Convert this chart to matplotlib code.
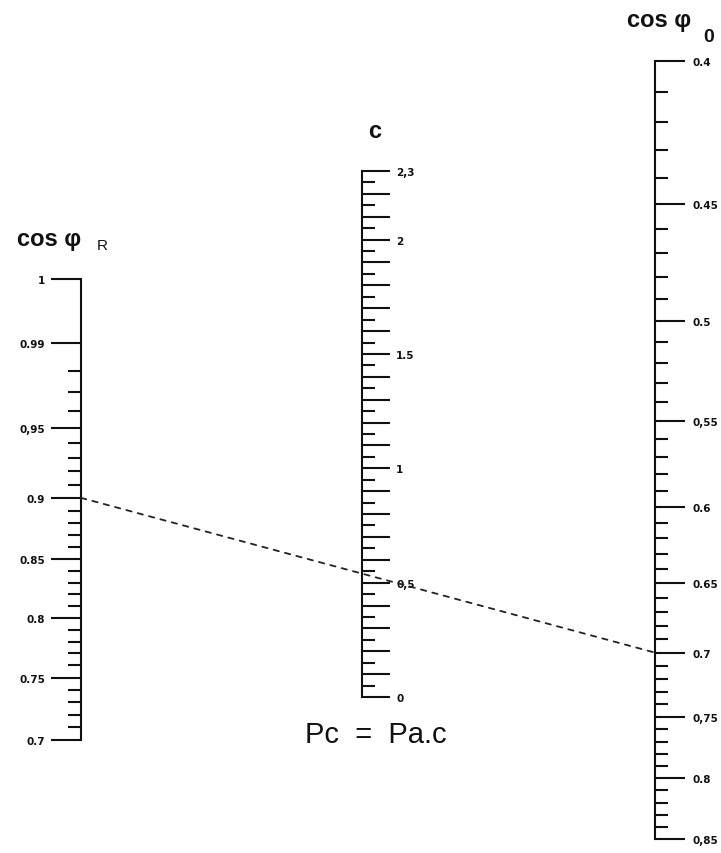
import numpy as np
import matplotlib
matplotlib.use("Agg")
import matplotlib.pyplot as plt
from matplotlib.patches import ConnectionPatch

W, H = 721, 854
LW = 1.5
INK = "#111111"

# left scale: cos phi_R
cos_r_major = [1.0, 0.99, 0.95, 0.9, 0.85, 0.8, 0.75, 0.7]
cos_r_labels = ["1", "0.99", "0,95", "0.9", "0.85", "0.8", "0.75", "0.7"]

# middle scale: c = tan phi_0 - tan phi_R
c_labels = {0.0: "0", 0.5: "0,5", 1.0: "1", 1.5: "1.5", 2.0: "2", 2.3: "2,3"}

# right scale: cos phi_0
cos_0_major = [0.4, 0.45, 0.5, 0.55, 0.6, 0.65, 0.7, 0.75, 0.8, 0.85]
cos_0_labels = ["0.4", "0.45", "0.5", "0,55", "0.6", "0.65", "0.7", "0,75", "0.8", "0,85"]

# worked example drawn on the chart
example_cos_r = 0.9
example_cos_0 = 0.7


def neg_tan(v):
    v = np.clip(np.asarray(v, dtype=float), 1e-3, 1.0)
    return -np.sqrt(1.0 - v ** 2) / v


def neg_tan_inv(t):
    t = np.asarray(t, dtype=float)
    return 1.0 / np.sqrt(1.0 + t ** 2)


def fx(x):
    return x / W


def fy(y):
    return 1.0 - y / H


fig = plt.figure(figsize=(W / 100, H / 100), dpi=100)


def scale_axes(x_spine, y_top, y_bottom, side):
    w = 0.02
    left = fx(x_spine) if side == "left" else fx(x_spine) - w
    ax = fig.add_axes([left, fy(y_bottom), w, (y_bottom - y_top) / H])
    ax.patch.set_visible(False)
    for name, sp in ax.spines.items():
        sp.set_visible(name == side)
    ax.spines[side].set_linewidth(LW)
    ax.spines[side].set_color(INK)
    ax.set_xlim(0, 1)
    ax.set_xticks([])
    if side == "right":
        ax.yaxis.tick_right()
    ax.tick_params(axis="y", which="major", direction="out", length=21.5, width=LW,
                   color=INK, pad=4.5)
    ax.tick_params(axis="y", which="minor", direction="out", length=9.5, width=LW,
                   color=INK)
    return ax


tick_font = dict(fontsize=7.5, fontweight="bold", family="DejaVu Sans", color=INK)

# left: cos phi_R
axL = scale_axes(81, 280, 741, "left")
axL.set_yscale("function", functions=(neg_tan, neg_tan_inv))
axL.set_ylim(0.7, 1.0)
axL.set_yticks(cos_r_major)
axL.set_yticklabels(cos_r_labels, **tick_font)
axL.set_yticks(np.round(np.arange(0.71, 0.995, 0.01), 2), minor=True)

# middle: c
axC = scale_axes(362, 172, 698, "right")
axC.set_ylim(0.0, 2.3)
c_ticks = np.round(np.arange(0.0, 2.31, 0.1), 2)
axC.set_yticks(c_ticks)
axC.set_yticklabels([c_labels.get(round(float(v), 2), "") for v in c_ticks], **tick_font)
axC.set_yticks(np.round(np.arange(0.05, 2.3, 0.1), 2), minor=True)
axC.tick_params(axis="y", which="major", length=20)

# right: cos phi_0
axR = scale_axes(655, 62, 840, "right")
axR.set_yscale("function", functions=(neg_tan, neg_tan_inv))
axR.set_ylim(0.85, 0.4)
axR.set_yticks(cos_0_major)
axR.set_yticklabels(cos_0_labels, **tick_font)
axR.set_yticks(np.round(np.arange(0.41, 0.85, 0.01), 2), minor=True)
axR.tick_params(axis="y", which="major", pad=5.5)

# example reading line
link = ConnectionPatch(xyA=(0, example_cos_r), coordsA=axL.transData,
                       xyB=(1, example_cos_0), coordsB=axR.transData,
                       linestyle=(0, (3, 3.5)), linewidth=1.3, color="#222222")
fig.add_artist(link)

# scale titles
title_font = dict(family="Liberation Sans", fontweight="bold", color=INK, va="baseline")
fig.text(fx(17), fy(246), "cos φ", fontsize=17, ha="left", **title_font)
fig.text(fx(97), fy(250), "R", fontsize=11, ha="left", family="Liberation Sans",
         color=INK, va="baseline")
fig.text(fx(368), fy(138), "c", fontsize=17, ha="left", **title_font)
fig.text(fx(627), fy(27), "cos φ", fontsize=17, ha="left", **title_font)
fig.text(fx(703), fy(42), "0", fontsize=14, ha="left", **title_font)

fig.text(fx(376), fy(743), "Pc  =  Pa.c", fontsize=21, ha="center", va="baseline",
         family="Liberation Sans", color=INK)

fig.savefig("out.png", dpi=100)
